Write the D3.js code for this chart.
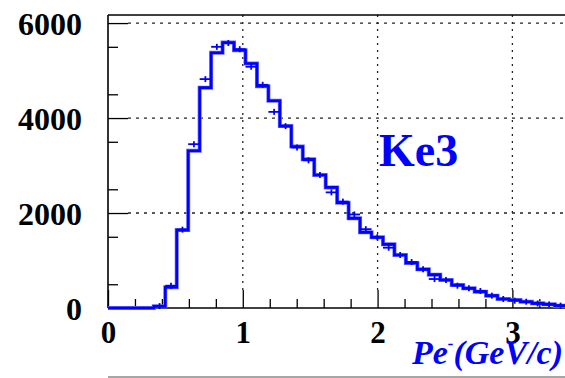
<!DOCTYPE html>
<html>
<head>
<meta charset="utf-8">
<script src="https://cdn.jsdelivr.net/npm/d3@7"></script>
<style>
  html, body { margin: 0; padding: 0; background: #fff; }
  svg { display: block; }
  text { font-family: "Liberation Serif", "DejaVu Serif", serif; }
</style>
</head>
<body>
<svg id="chart" width="565" height="378"></svg>
<script>
// Electron momentum spectrum for Ke3 decays, 40 bins of 0.085 GeV/c from 0 to 3.4
const binLow = 0;
const binWidth = 0.085;
const simulated = [0, 0, 0, 0, 35, 436, 1640, 3310, 4640, 5375,
  5590, 5430, 5150, 4670, 4365, 3830, 3400, 3130, 2800, 2540,
  2217, 1888, 1593, 1488, 1340, 1116, 950, 814, 702, 590,
  484, 414, 344, 260, 190, 168, 133, 98, 77, 49];
const measured = [0, 0, 0, 0, 40, 470, 1650, 3450, 4820, 5500,
  5580, 5450, 5080, 4700, 4130, 3830, 3380, 3110, 2800, 2435,
  2240, 1970, 1660, 1490, 1270, 1116, 968, 814, 610, 590,
  470, 414, 358, 260, 190, 154, 133, 95, 75, 50];
const xTicks = [0, 1, 2, 3];
const yTicks = [0, 2000, 4000, 6000];
const label = "Ke3";

const svg = d3.select("#chart");
const x = d3.scaleLinear().domain([0, 3.4]).range([108, 566.3]);
const y = d3.scaleLinear().domain([0, 6170]).range([308, 15]);
const blue = "#0000ff";

// dotted grid at the labelled ticks
const grid = svg.append("g").attr("stroke", "#222").attr("stroke-width", 1.3);
grid.selectAll("line.h").data(yTicks.filter(d => d > 0)).join("line")
  .attr("x1", x(0) + 20).attr("x2", 565)
  .attr("y1", d => y(d)).attr("y2", d => y(d))
  .attr("stroke-dasharray", "3,5");
grid.selectAll("line.v").data(xTicks.filter(d => d > 0)).join("line")
  .attr("x1", d => x(d)).attr("x2", d => x(d))
  .attr("y1", y(0) - 18).attr("y2", y(6170))
  .attr("stroke-dasharray", "2,5");

// minor ticks (inward)
const minorX = d3.range(0, 3.41, 0.2).filter(v => Math.abs(v - Math.round(v)) > 1e-6);
svg.append("g").attr("transform", `translate(0,${y(0)})`)
  .call(d3.axisBottom(x).tickValues(minorX).tickSize(-9).tickFormat(""))
  .call(g => g.select(".domain").remove())
  .call(g => g.selectAll("line").attr("stroke", "#000").attr("stroke-width", 1.3));
const minorY = d3.range(500, 6001, 1000);
svg.append("g").attr("transform", `translate(${x(0)},0)`)
  .call(d3.axisLeft(y).tickValues(minorY).tickSize(-10).tickFormat(""))
  .call(g => g.select(".domain").remove())
  .call(g => g.selectAll("line").attr("stroke", "#000").attr("stroke-width", 1.3));

// major axes with labels
svg.append("g").attr("transform", `translate(0,${y(0)})`)
  .call(d3.axisBottom(x).tickValues(xTicks).tickSize(-18).tickPadding(0).tickFormat(d3.format("d")))
  .call(g => g.select(".domain").remove())
  .call(g => g.selectAll("line").attr("stroke", "#000").attr("stroke-width", 1.3))
  .call(g => g.selectAll("text").attr("y", 35).attr("dy", null)
    .attr("font-size", 31).attr("font-weight", "bold")
    .attr("font-family", "'Liberation Serif', serif").attr("fill", "#000"));
svg.append("g").attr("transform", `translate(${x(0)},0)`)
  .call(d3.axisLeft(y).tickValues(yTicks).tickSize(-20).tickPadding(0).tickFormat(d3.format("d")))
  .call(g => g.select(".domain").remove())
  .call(g => g.selectAll("line").attr("stroke", "#000").attr("stroke-width", 1.3))
  .call(g => g.selectAll("text").attr("x", -26).attr("dy", "0.36em")
    .attr("font-size", 32).attr("font-weight", "bold")
    .attr("font-family", "'Liberation Serif', serif").attr("fill", "#000"));

// frame
svg.append("line").attr("x1", x(0)).attr("x2", x(0)).attr("y1", y(6170)).attr("y2", y(0))
  .attr("stroke", "#000").attr("stroke-width", 1.6);
svg.append("line").attr("x1", x(0)).attr("x2", 565).attr("y1", y(0)).attr("y2", y(0))
  .attr("stroke", "#000").attr("stroke-width", 1.6);
svg.append("line").attr("x1", x(0)).attr("x2", 565).attr("y1", y(6170)).attr("y2", y(6170))
  .attr("stroke", "#000").attr("stroke-width", 1.6);

// step histogram
const steps = [[binLow, 0]];
simulated.forEach((v, i) => {
  const lo = binLow + i * binWidth;
  steps.push([lo, v], [lo + binWidth, v]);
});
const line = d3.line().x(d => x(d[0])).y(d => y(d[1]));
svg.append("path").datum(steps).attr("d", line)
  .attr("fill", "none").attr("stroke", "#6a6aff").attr("stroke-width", 4).attr("stroke-linejoin", "miter");
svg.append("path").datum(steps).attr("d", line)
  .attr("fill", "none").attr("stroke", blue).attr("stroke-width", 2.6).attr("stroke-linejoin", "miter");

// measured points: bin-wide horizontal bar with a short vertical bar
const pts = measured.map((v, i) => ({ lo: binLow + i * binWidth, v })).filter(d => d.v > 0);
const pg = svg.append("g").attr("stroke", blue).attr("stroke-width", 1.8);
pg.selectAll("line.hb").data(pts).join("line")
  .attr("x1", d => x(d.lo)).attr("x2", d => x(d.lo + binWidth))
  .attr("y1", d => y(d.v)).attr("y2", d => y(d.v));
pg.selectAll("line.vb").data(pts).join("line")
  .attr("x1", d => x(d.lo + binWidth / 2)).attr("x2", d => x(d.lo + binWidth / 2))
  .attr("y1", d => y(d.v) - 3).attr("y2", d => y(d.v) + 3);

// decay mode label
svg.append("text").attr("x", 379).attr("y", 166)
  .attr("font-size", 46).attr("font-weight", "bold").attr("fill", blue).text(label);

// axis title
const t = svg.append("text").attr("x", 563).attr("y", 364).attr("text-anchor", "end")
  .attr("font-size", 34).attr("font-weight", "bold").attr("font-style", "italic").attr("fill", blue);
t.append("tspan").text("Pe");
t.append("tspan").attr("font-size", 17).attr("dy", -15).text("-");
t.append("tspan").attr("dy", 15).text("(GeV/c)");

// divider below the plot
svg.append("line").attr("x1", x(0)).attr("x2", 565).attr("y1", 377).attr("y2", 377)
  .attr("stroke", "#888").attr("stroke-width", 1.5);
</script>
</body>
</html>
